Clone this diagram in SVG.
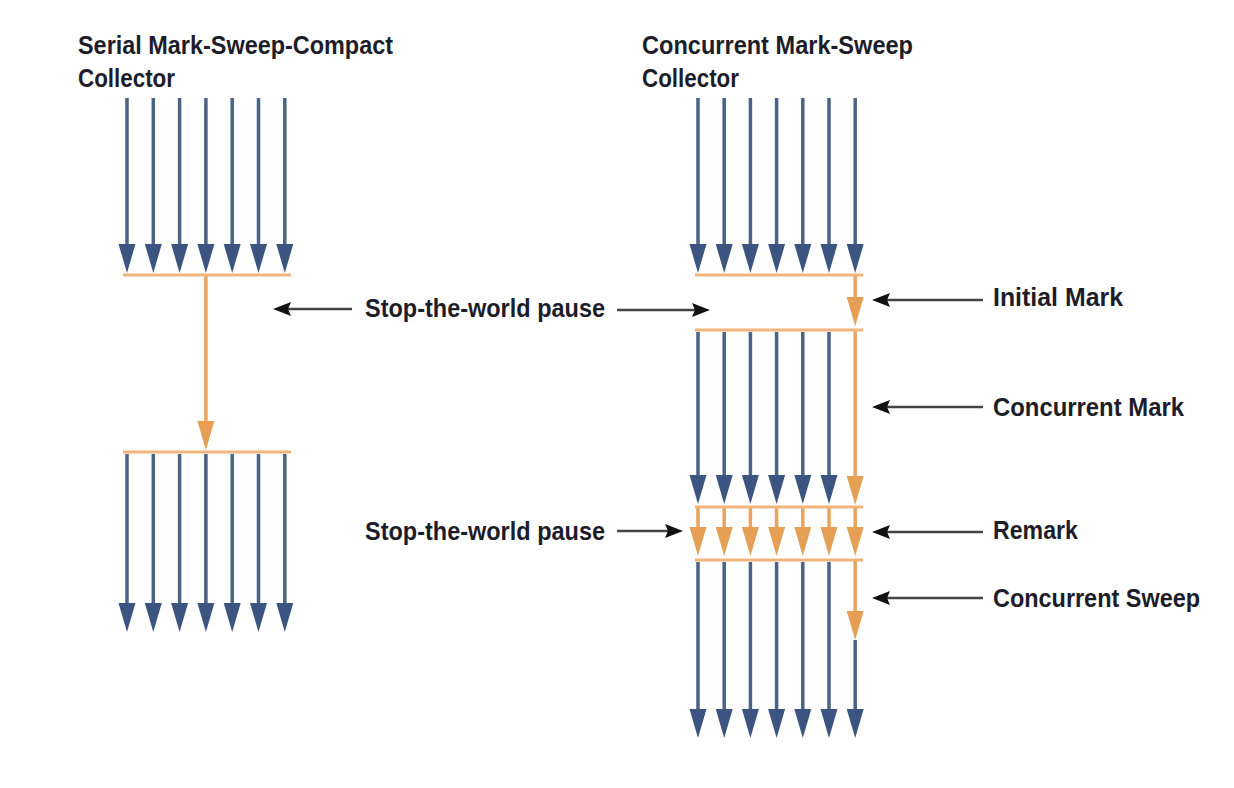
<svg xmlns="http://www.w3.org/2000/svg" xmlns:xlink="http://www.w3.org/1999/xlink" width="1234" height="788" viewBox="0 0 1234 788">
<style>
.t{font-family:"Liberation Sans",Arial,sans-serif;font-weight:bold;font-size:25px;fill:#1d1d29}
.b{stroke:#4a6386;stroke-width:3.5;fill:none}
.o{stroke:#f0b47c;stroke-width:3;fill:none}
.ov{stroke:#e9a460;stroke-width:3.5;fill:none}
.bh{fill:#3c5580}
.oh{fill:#e5a055}
.k{stroke:#444;stroke-width:2.5;fill:none}
.kh{fill:#111}
</style>
<defs>
<path id="h" d="M-8.5,-29 L8.5,-29 L0,0 Z"/>
<path id="kl" d="M0,0 L18,-7 L15,0 L18,7 Z"/>
<path id="kr" d="M0,0 L-18,-7 L-15,0 L-18,7 Z"/>
</defs>
<g id="title-serial">
<text class="t" x="78" y="54" textLength="315" lengthAdjust="spacingAndGlyphs">Serial Mark-Sweep-Compact</text>
<text class="t" x="78" y="87" textLength="97" lengthAdjust="spacingAndGlyphs">Collector</text>
</g>
<g id="title-cms">
<text class="t" x="642" y="54" textLength="271" lengthAdjust="spacingAndGlyphs">Concurrent Mark-Sweep</text>
<text class="t" x="642" y="87" textLength="97" lengthAdjust="spacingAndGlyphs">Collector</text>
</g>
<g id="serial">
<g class="b">
<path d="M127,98V250M153.3,98V250M179.6,98V250M205.9,98V250M232.2,98V250M258.5,98V250M284.8,98V250"/>
<path d="M127,454V608M153.3,454V608M179.6,454V608M205.9,454V608M232.2,454V608M258.5,454V608M284.8,454V608"/>
</g>
<g class="bh">
<use xlink:href="#h" x="127" y="273"/><use xlink:href="#h" x="153.3" y="273"/><use xlink:href="#h" x="179.6" y="273"/><use xlink:href="#h" x="205.9" y="273"/><use xlink:href="#h" x="232.2" y="273"/><use xlink:href="#h" x="258.5" y="273"/><use xlink:href="#h" x="284.8" y="273"/>
<use xlink:href="#h" x="127" y="632"/><use xlink:href="#h" x="153.3" y="632"/><use xlink:href="#h" x="179.6" y="632"/><use xlink:href="#h" x="205.9" y="632"/><use xlink:href="#h" x="232.2" y="632"/><use xlink:href="#h" x="258.5" y="632"/><use xlink:href="#h" x="284.8" y="632"/>
</g>
<path class="ov" d="M205.9,275V425"/>
<use class="oh" xlink:href="#h" x="205.9" y="450"/>
<path class="o" d="M123,275H291M123,452H291"/>
</g>
<g id="cms">
<g class="b">
<path d="M698,98V250M724.2,98V250M750.4,98V250M776.6,98V250M802.8,98V250M829,98V250M855.2,98V250"/>
<path d="M698,332V480M724.2,332V480M750.4,332V480M776.6,332V480M802.8,332V480M829,332V480"/>
<path d="M698,562V714M724.2,562V714M750.4,562V714M776.6,562V714M802.8,562V714M829,562V714M855.2,640V714"/>
</g>
<g class="bh">
<use xlink:href="#h" x="698" y="273"/><use xlink:href="#h" x="724.2" y="273"/><use xlink:href="#h" x="750.4" y="273"/><use xlink:href="#h" x="776.6" y="273"/><use xlink:href="#h" x="802.8" y="273"/><use xlink:href="#h" x="829" y="273"/><use xlink:href="#h" x="855.2" y="273"/>
<use xlink:href="#h" x="698" y="504"/><use xlink:href="#h" x="724.2" y="504"/><use xlink:href="#h" x="750.4" y="504"/><use xlink:href="#h" x="776.6" y="504"/><use xlink:href="#h" x="802.8" y="504"/><use xlink:href="#h" x="829" y="504"/>
<use xlink:href="#h" x="698" y="738"/><use xlink:href="#h" x="724.2" y="738"/><use xlink:href="#h" x="750.4" y="738"/><use xlink:href="#h" x="776.6" y="738"/><use xlink:href="#h" x="802.8" y="738"/><use xlink:href="#h" x="829" y="738"/><use xlink:href="#h" x="855.2" y="738"/>
</g>
<g class="ov">
<path d="M855.2,275V302M855.2,330V482M855.2,560V614"/>
<path d="M698,507V532M724.2,507V532M750.4,507V532M776.6,507V532M802.8,507V532M829,507V532M855.2,507V532"/>
</g>
<g class="oh">
<use xlink:href="#h" x="855.2" y="326"/>
<use xlink:href="#h" x="855.2" y="505"/>
<use xlink:href="#h" x="698" y="556"/><use xlink:href="#h" x="724.2" y="556"/><use xlink:href="#h" x="750.4" y="556"/><use xlink:href="#h" x="776.6" y="556"/><use xlink:href="#h" x="802.8" y="556"/><use xlink:href="#h" x="829" y="556"/><use xlink:href="#h" x="855.2" y="556"/>
<use xlink:href="#h" x="855.2" y="640"/>
</g>
<path class="o" d="M695,275H863M695,330H863M695,507H863M695,560H863"/>
</g>
<g id="connectors">
<path class="k" d="M288,309H352M617,310H695M617,531H668M887,300H983M887,407H983M887,532H983M887,598H983"/>
<g class="kh">
<use xlink:href="#kl" x="273" y="309"/>
<use xlink:href="#kr" x="710" y="310"/>
<use xlink:href="#kr" x="683" y="531"/>
<use xlink:href="#kl" x="872" y="300"/>
<use xlink:href="#kl" x="872" y="407"/>
<use xlink:href="#kl" x="872" y="532"/>
<use xlink:href="#kl" x="872" y="598"/>
</g>
</g>
<g id="label-stw1"><text class="t" x="365" y="317" textLength="240" lengthAdjust="spacingAndGlyphs">Stop-the-world pause</text></g>
<g id="label-stw2"><text class="t" x="365" y="540" textLength="240" lengthAdjust="spacingAndGlyphs">Stop-the-world pause</text></g>
<g id="label-initial"><text class="t" x="993" y="306" textLength="130" lengthAdjust="spacingAndGlyphs">Initial Mark</text></g>
<g id="label-cmark"><text class="t" x="993" y="416" textLength="191" lengthAdjust="spacingAndGlyphs">Concurrent Mark</text></g>
<g id="label-remark"><text class="t" x="993" y="539" textLength="85" lengthAdjust="spacingAndGlyphs">Remark</text></g>
<g id="label-csweep"><text class="t" x="993" y="607" textLength="207" lengthAdjust="spacingAndGlyphs">Concurrent Sweep</text></g>
</svg>
